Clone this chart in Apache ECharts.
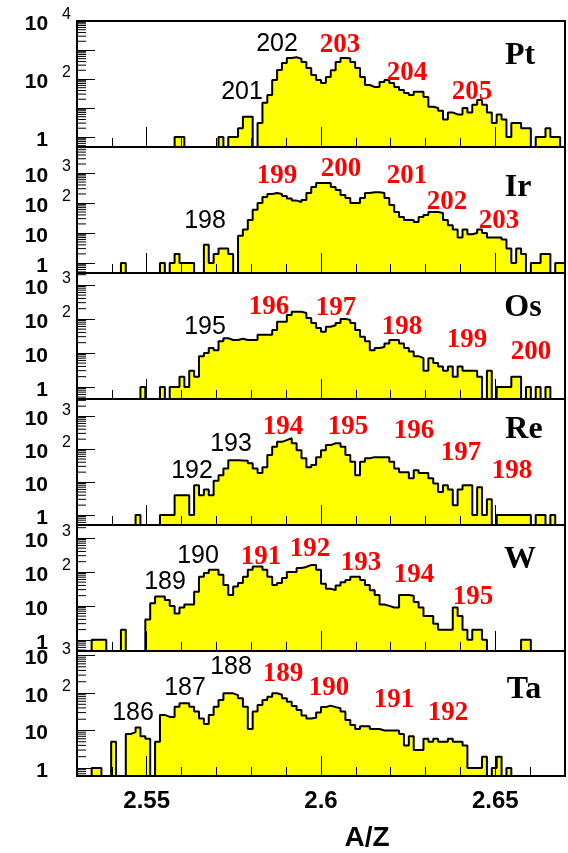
<!DOCTYPE html>
<html>
<head>
<meta charset="utf-8">
<script src="https://cdn.jsdelivr.net/npm/echarts@6/dist/echarts.min.js"></script>
<style>
  html, body { margin: 0; padding: 0; background: #fff; }
  #chart { width: 568px; height: 853px; }
</style>
</head>
<body>
<div id="chart"></div>
<script>
// A/Z histograms: 100 bins between 2.53 and 2.67
const azMin = 2.53;
const azMax = 2.67;
const binCount = 100;

const elements = ['Pt', 'Ir', 'Os', 'Re', 'W', 'Ta'];

// counts per bin (bin 0 starts at A/Z = 2.53)
const countsPt = [
  0,0,0,0,0,0,0,0,0,0,
  0,0,0,0,0,0,0,0,0,0,
  1,1,0,0,0,0,0,0,0,1,
  0,1,1,2,5,5,0,3,15,28,
  92,204,355,530,560,500,385,240,137,92,
  73,117,200,385,530,520,385,240,117,62,
  53,53,78,92,73,53,42,33,28,36,
  36,24,11,10,8,4,7,6,6,10,
  7,13,19,13,7,3,6,4,1,3,
  3,2,2,0,1,1,2,1,1,0
];
const countsIr = [
  0,0,0,0,0,0,0,0,0,1,
  0,0,0,0,0,0,0,1,0,1,
  2,1,1,1,0,0,4,1,2,3,
  3,2,0,8,13,27,60,100,158,200,
  215,200,170,140,120,108,126,215,340,464,
  464,464,340,270,185,146,100,100,146,215,
  230,230,215,146,86,50,34,27,27,23,
  34,40,50,50,46,27,18,13,7,13,
  9,10,13,10,7,7,7,6,3,1,
  3,2,0,1,1,2,2,0,1,1
];
const countsOs = [
  0,0,0,0,0,0,0,0,0,0,
  0,0,0,1,0,0,0,1,0,1,
  1,2,1,3,2,8,10,14,12,22,
  27,24,24,26,24,24,24,34,34,34,
  47,83,83,131,163,163,150,107,76,54,
  42,59,65,76,100,93,76,47,30,22,
  12,14,15,19,24,24,19,14,11,8,
  7,3,7,5,4,3,4,2,4,3,
  3,3,2,0,3,0,1,1,1,2,
  2,0,1,0,1,0,1,0,0,0
];
const countsRe = [
  0,0,0,0,0,0,0,0,0,0,
  0,0,1,0,0,0,0,1,1,1,
  4,4,4,1,8,4,6,4,11,16,
  26,46,46,45,44,37,26,19,28,66,
  117,166,187,215,150,93,53,28,33,57,
  93,132,150,150,117,66,41,16,41,53,
  57,57,57,57,41,26,20,20,13,23,
  19,19,13,9,5,8,6,2,6,8,
  8,1,7,1,3,0,1,1,1,1,
  1,1,1,0,1,1,0,1,0,0
];
const countsW = [
  0,0,0,1,1,1,0,0,0,2,
  0,0,0,0,4,12,19,19,15,10,
  6,9,11,11,26,72,93,115,115,82,
  41,21,37,47,72,115,143,143,115,72,
  41,47,66,100,100,130,140,160,160,115,
  45,32,29,40,50,58,72,72,58,41,
  29,21,11,10,9,9,21,21,20,13,
  9,5,5,3,2,2,2,9,5,2,
  1,2,2,1,0,0,0,0,0,0,
  0,1,1,0,0,0,0,0,0,0
];
const countsTa = [
  0,0,0,1,1,0,0,5,0,0,
  8,9,12,7,6,0,5,26,23,23,
  43,53,53,43,32,21,15,26,43,65,
  98,98,88,72,43,11,32,48,65,80,
  98,90,72,58,45,35,25,21,22,30,
  42,46,42,39,32,19,14,11,13,13,
  11,11,10,10,10,10,8,4,7,3,
  3,6,5,6,5,5,6,5,5,4,
  1,1,1,2,0,1,2,0,1,0,
  0,0,0,0,0,0,0,0,0,0
];
const counts = [countsPt, countsIr, countsOs, countsRe, countsW, countsTa];

// per-panel log axis ranges and labelled decades
const yMinimum = [0.45, 0.46, 0.44, 0.5, 0.47, 0.61];
const yMaximum = [10000, 7400, 2240, 3300, 2400, 1320];
const labelledDecades = [[0, 2, 4], [0, 1, 2, 3], [0, 1, 2, 3], [0, 1, 2, 3], [0, 1, 2, 3], [0, 1, 2, 3]];

// x tick labels
const xTickLabels = [2.55, 2.6, 2.65];

// panel frames (pixels)
const panelTop = [21, 147, 273, 399, 525, 651];
const panelHeight = [126, 126, 126, 126, 126, 125];
const plotLeft = 77;
const plotWidth = 488;

// isotope annotations: [panel, text, x, y, red]
const isotopeNotes = [
  [0, '201', 242, 92, false], [0, '202', 277, 44, false], [0, '203', 340, 45, true],
  [0, '204', 407, 73, true], [0, '205', 472, 92, true],
  [1, '198', 205, 221, false], [1, '199', 277, 176, true], [1, '200', 341, 169, true],
  [1, '201', 407, 176, true], [1, '202', 447, 202, true], [1, '203', 499, 221, true],
  [2, '195', 205, 327, false], [2, '196', 269, 307, true], [2, '197', 336, 308, true],
  [2, '198', 402, 327, true], [2, '199', 467, 340, true], [2, '200', 531, 352, true],
  [3, '192', 192, 471, false], [3, '193', 231, 444, false], [3, '194', 283, 427, true],
  [3, '195', 348, 427, true], [3, '196', 414, 431, true], [3, '197', 461, 453, true],
  [3, '198', 512, 471, true],
  [4, '189', 165, 582, false], [4, '190', 198, 556, false], [4, '191', 261, 557, true],
  [4, '192', 310, 549, true], [4, '193', 361, 563, true], [4, '194', 414, 575, true],
  [4, '195', 473, 597, true],
  [5, '186', 133, 713, false], [5, '187', 185, 688, false], [5, '188', 231, 667, false],
  [5, '189', 283, 674, true], [5, '190', 329, 688, true], [5, '191', 394, 700, true],
  [5, '192', 448, 713, true]
];
const elementNotePos = [[520, 56], [518, 188], [523, 308], [524, 430], [520, 560], [524, 690]];

const binWidth = (azMax - azMin) / binCount;

const grids = [];
const xAxes = [];
const yAxes = [];
const series = [];

counts.forEach(function (c, k) {
  const floor = yMinimum[k];
  grids.push({
    left: plotLeft, width: plotWidth, top: panelTop[k], height: panelHeight[k],
    show: true, borderColor: '#000', borderWidth: 2, backgroundColor: 'transparent',
    containLabel: false, z: 12
  });

  // minor x ticks every 0.01
  xAxes.push({
    gridIndex: k, type: 'value', position: 'bottom', offset: 0,
    min: azMin, max: azMax, interval: 0.01, z: 12,
    axisLine: { show: true, lineStyle: { color: '#000', width: 2 } },
    axisTick: { show: true, inside: true, length: 9, lineStyle: { color: '#000', width: 1 } },
    axisLabel: { show: false }, splitLine: { show: false }
  });
  // major x ticks (labels on the bottom panel only)
  xAxes.push({
    gridIndex: k, type: 'value', position: 'bottom', offset: 0,
    min: azMin, max: azMax, z: 12,
    axisLine: { show: false },
    axisTick: { show: true, inside: true, length: 20, customValues: xTickLabels,
      lineStyle: { color: '#000', width: 1 } },
    axisLabel: {
      show: k === counts.length - 1, customValues: xTickLabels, margin: 13,
      formatter: function (v) { return String(v); },
      fontFamily: 'Liberation Sans', fontWeight: 'bold', fontSize: 24, color: '#000'
    },
    splitLine: { show: false }
  });

  const decadesShown = labelledDecades[k];
  yAxes.push({
    gridIndex: k, type: 'log', logBase: 10, min: yMinimum[k], max: yMaximum[k], z: 12,
    axisLine: { show: true, lineStyle: { color: '#000', width: 2 } },
    axisTick: { show: true, inside: true, length: 18, lineStyle: { color: '#000', width: 1 } },
    splitLine: { show: false },
    axisLabel: {
      show: true, margin: 2, showMinLabel: true, showMaxLabel: true,
      formatter: function (value) {
        const e = Math.log10(value);
        const n = Math.round(e);
        if (Math.abs(e - n) > 1e-6 || decadesShown.indexOf(n) < 0) return '';
        if (n === 0) return '{b|1}{g| }';
        if (n === 1) return '{b|10}{g| }';
        return '{b|10}{s|' + n + '}';
      },
      rich: {
        b: { fontFamily: 'Liberation Sans', fontWeight: 'bold', fontSize: 21, color: '#000',
             padding: [6, 0, 0, 0], verticalAlign: 'middle' },
        s: { fontFamily: 'Liberation Sans', fontSize: 16, color: '#000',
             padding: [0, 4, 12, 14], verticalAlign: 'middle' },
        g: { width: 27, fontSize: 16, verticalAlign: 'middle' }
      }
    }
  });

  // yellow fill, one rectangle per bin
  series.push({
    type: 'custom', xAxisIndex: 2 * k, yAxisIndex: k, silent: true, z: 2,
    encode: { x: [0, 1], y: 2 },
    data: c.map(function (v, i) { return [azMin + i * binWidth, azMin + (i + 1) * binWidth, v]; })
           .filter(function (d) { return d[2] > 0; }),
    renderItem: function (params, api) {
      const a = api.coord([api.value(0), api.value(2)]);
      const b = api.coord([api.value(1), floor]);
      return {
        type: 'rect',
        shape: { x: a[0], y: a[1], width: b[0] - a[0] + 0.6, height: b[1] - a[1] },
        style: { fill: '#ffff00' }
      };
    },
    markLine: {
      silent: true, symbol: 'none', z: 3,
      label: { show: false },
      lineStyle: { color: 'rgba(255,255,255,0.75)', width: 1, type: 'solid' },
      data: [{ xAxis: 2.6 }]
    }
  });

  // black step outline
  const pts = c.map(function (v, i) { return [azMin + i * binWidth, Math.max(v, floor)]; });
  pts.push([azMax, floor]);
  series.push({
    type: 'line', xAxisIndex: 2 * k, yAxisIndex: k, data: pts, step: 'end',
    symbol: 'none', silent: true, z: 10,
    lineStyle: { color: '#000', width: 2 }
  });

  // minor log ticks (2..9 within each decade)
  const minorVals = [];
  for (let e = -1; e <= 4; e++) {
    for (let m = 2; m <= 9; m++) {
      const v = m * Math.pow(10, e);
      if (v > yMinimum[k] && v < yMaximum[k]) minorVals.push([azMin, v]);
    }
  }
  series.push({
    type: 'custom', xAxisIndex: 2 * k, yAxisIndex: k, silent: true, z: 12,
    data: minorVals,
    renderItem: function (params, api) {
      const p = api.coord([api.value(0), api.value(1)]);
      return {
        type: 'line',
        shape: { x1: p[0], y1: p[1], x2: p[0] + 9, y2: p[1] },
        style: { stroke: '#000', lineWidth: 1 }
      };
    }
  });
});

const graphics = [];
isotopeNotes.forEach(function (n) {
  graphics.push({
    type: 'text', x: n[2], y: n[3], z: 20, silent: true,
    style: {
      text: n[1], fill: n[4] ? '#ff0000' : '#000',
      font: n[4] ? 'bold 27px "Liberation Serif"' : '25px "Liberation Sans"',
      align: 'center', verticalAlign: 'middle'
    }
  });
});
elements.forEach(function (name, k) {
  graphics.push({
    type: 'text', x: elementNotePos[k][0], y: elementNotePos[k][1], z: 20, silent: true,
    style: { text: name, fill: '#000', font: 'bold 32px "Liberation Serif"',
             align: 'center', verticalAlign: 'middle' }
  });
});
graphics.push({
  type: 'text', x: 367, y: 838, z: 20, silent: true,
  style: { text: 'A/Z', fill: '#000', font: 'bold 28px "Liberation Sans"',
           align: 'center', verticalAlign: 'middle' }
});

const chart = echarts.init(document.getElementById('chart'), null, { renderer: 'canvas' });
chart.setOption({
  animation: false,
  backgroundColor: '#fff',
  grid: grids,
  xAxis: xAxes,
  yAxis: yAxes,
  series: series,
  graphic: graphics
});
</script>
</body>
</html>
